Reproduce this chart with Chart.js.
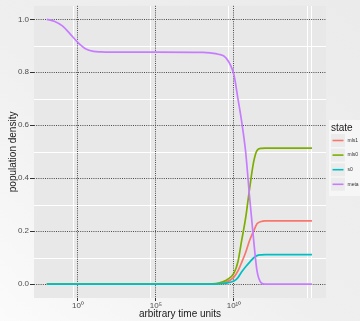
<!DOCTYPE html>
<html lang="en">
<head>
<meta charset="UTF-8">
<title>population density</title>
<script src="https://cdn.jsdelivr.net/npm/chart.js@4.4.1/dist/chart.umd.min.js"></script>
<style>
  html, body { margin: 0; padding: 0; }
  body {
    width: 360px; height: 321px; overflow: hidden;
    background: linear-gradient(to top right, #fbfbfb 0%, #efefef 45%, #ebebeb 100%);
  }
  #wrap { position: relative; width: 360px; height: 321px; }
</style>
</head>
<body>
<div id="wrap"><canvas id="chart" width="360" height="321"></canvas></div>
<script>
// time points (arbitrary units, log axis)
const times = [1e-2, 3e-2, 1e-1, 3e-1, 1, 3, 1e1, 3e1, 1e2, 1e5, 1e8, 3e8, 1e9, 3e9,
               1e10, 1.8e10, 3e10, 5.6e10, 1e11, 1.8e11, 3e11, 5.6e11, 1e12, 1e13, 1e15];

const mls1 = [0, 0, 0, 0, 0, 0, 0, 0, 0, 0, 0, 0, 0.002, 0.007,
              0.027, 0.05, 0.08, 0.12, 0.165, 0.2, 0.228, 0.237, 0.239, 0.239, 0.239];
const mls0 = [0, 0, 0, 0, 0, 0, 0, 0, 0, 0, 0, 0.001, 0.004, 0.014,
              0.042, 0.085, 0.16, 0.25, 0.36, 0.46, 0.505, 0.513, 0.514, 0.514, 0.514];
const s0   = [0, 0, 0, 0, 0, 0, 0, 0, 0, 0, 0, 0, 0.001, 0.004,
              0.012, 0.025, 0.045, 0.066, 0.083, 0.099, 0.108, 0.111, 0.112, 0.112, 0.112];
const meta = [1.0, 0.993, 0.975, 0.946, 0.912, 0.889, 0.879, 0.877, 0.876, 0.876, 0.875, 0.873, 0.868, 0.855,
              0.79, 0.70, 0.62, 0.50, 0.33, 0.17, 0.05, 0.005, 0, 0, 0];

const seriesNames = ['mls1', 'mls0', 's0', 'meta'];
const seriesColors = ['#F8766D', '#7CAE00', '#00BFC4', '#C77CFF'];

const xTicks = [1, 1e5, 1e10];
const xTickLabels = ['10\u2070', '10\u2075', '10\u00b9\u2070'];
const xMinorLines = [0.48, 4.2e4, 4.8e9, 5.5e14, 1e15];
const yTicks = [0, 0.2, 0.4, 0.6, 0.8, 1.0];
const yMinorLines = [0.1, 0.3, 0.5, 0.7, 0.9];

const toPoints = vals => vals.map((v, i) => ({ x: times[i], y: v }));
const allSeries = [mls1, mls0, s0, meta];

const datasets = allSeries.map((vals, i) => ({
    label: seriesNames[i],
    data: toPoints(vals),
    borderColor: seriesColors[i],
    backgroundColor: seriesColors[i],
    borderWidth: 1.7,
    pointRadius: 0,
    fill: false,
    cubicInterpolationMode: 'monotone',
    order: 3 - i
}));

// grey panel behind the plot, with the white minor grid of the y scale
const panelBg = {
    id: 'panelBg',
    beforeDraw(chart) {
        const a = chart.chartArea, ctx = chart.ctx;
        const y = chart.scales.y;
        ctx.save();
        ctx.fillStyle = '#e8e8e8';
        ctx.fillRect(a.left, a.top, a.right - a.left, a.bottom - a.top);
        ctx.strokeStyle = '#ffffff';
        ctx.lineWidth = 1;
        yMinorLines.forEach(v => {
            const py = Math.round(y.getPixelForValue(v)) + 0.5;
            ctx.beginPath();
            ctx.moveTo(a.left, py);
            ctx.lineTo(a.right, py);
            ctx.stroke();
        });
        ctx.restore();
    }
};

// ggplot style legend on the right
const sideLegend = {
    id: 'sideLegend',
    afterDraw(chart) {
        const ctx = chart.ctx;
        ctx.save();
        ctx.fillStyle = '#f6f6f6';
        ctx.fillRect(329, 120, 31, 76);
        ctx.fillStyle = '#1a1a1a';
        ctx.font = '10px "Liberation Sans", Arial, sans-serif';
        ctx.textBaseline = 'middle';
        ctx.fillText('state', 331, 128);
        seriesNames.forEach((name, i) => {
            const cy = 140.5 + i * 14.6;
            ctx.fillStyle = '#ebebeb';
            ctx.fillRect(331, cy - 6.5, 14, 13);
            ctx.strokeStyle = seriesColors[i];
            ctx.lineWidth = 1.6;
            ctx.beginPath();
            ctx.moveTo(332.5, cy);
            ctx.lineTo(343.5, cy);
            ctx.stroke();
            ctx.fillStyle = '#333';
            ctx.font = '5px "Liberation Sans", Arial, sans-serif';
            ctx.fillText(name, 347.5, cy);
        });
        ctx.restore();
    }
};

const tickFont = { family: '"Liberation Sans", Arial, sans-serif', size: 8 };
const titleFont = { family: '"Liberation Sans", Arial, sans-serif', size: 10 };
const xMin = Math.pow(10, -2.82), xMax = Math.pow(10, 15.9);

new Chart(document.getElementById('chart'), {
    type: 'line',
    data: { datasets: datasets },
    plugins: [panelBg, sideLegend],
    options: {
        responsive: false,
        animation: false,
        layout: { padding: { top: 5, right: 34, left: 0, bottom: 0 } },
        plugins: { legend: { display: false }, tooltip: { enabled: false } },
        scales: {
            xMinor: {
                type: 'logarithmic', position: 'top', min: xMin, max: xMax, z: -1,
                afterBuildTicks: s => { s.ticks = xMinorLines.map(v => ({ value: v })); },
                afterFit: s => { s.height = 0; },
                ticks: { display: false },
                grid: { color: '#ffffff', lineWidth: 1, drawTicks: false },
                border: { display: false }
            },
            x: {
                type: 'logarithmic', position: 'bottom', min: xMin, max: xMax,
                afterBuildTicks: s => { s.ticks = xTicks.map(v => ({ value: v })); },
                afterFit: s => { s.height = 23; },
                ticks: {
                    font: tickFont, color: '#4d4d4d', padding: 0, maxRotation: 0, autoSkip: false,
                    callback: (v, i) => xTickLabels[i]
                },
                grid: { color: '#4a4a4a', lineWidth: 1, tickLength: 3, tickColor: '#333333', tickBorderDash: [] },
                border: { display: false, dash: [1, 1.2] },
                title: { display: true, text: 'arbitrary time units', font: titleFont, color: '#1a1a1a', padding: { top: 0, bottom: 1 } }
            },
            y: {
                type: 'linear', position: 'left', min: -0.052, max: 1.051,
                afterBuildTicks: s => { s.ticks = yTicks.map(v => ({ value: v })); },
                afterFit: s => { s.width = 34; },
                ticks: {
                    font: tickFont, color: '#4d4d4d', padding: 1,
                    callback: v => v.toFixed(1)
                },
                grid: { color: '#4a4a4a', lineWidth: 1, tickLength: 4, tickColor: '#333333', tickBorderDash: [] },
                border: { display: false, dash: [1, 1.2] },
                title: { display: true, text: 'population density', font: titleFont, color: '#1a1a1a', padding: { top: 7, bottom: 0 } }
            }
        }
    }
});
</script>
</body>
</html>
